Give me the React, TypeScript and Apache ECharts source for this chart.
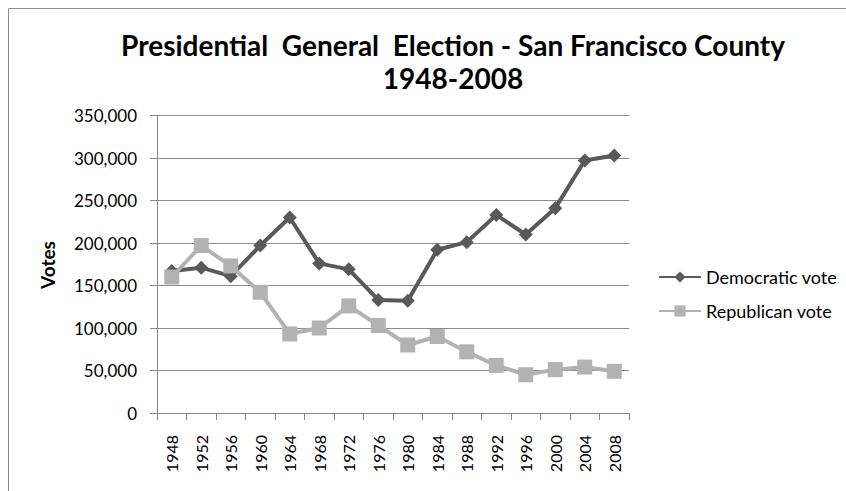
import React, { useEffect, useRef } from "react";
import * as echarts from "echarts";

const years = ["1948","1952","1956","1960","1964","1968","1972","1976","1980","1984","1988","1992","1996","2000","2004","2008"];
const democraticVote = [167000,171000,161000,197000,230000,176000,169000,133000,132000,192000,201000,233000,210000,241000,297000,303000];
const republicanVote = [160000,197000,173000,142000,93000,100000,126000,103000,80000,90000,72000,56000,45000,51000,54000,49000];
const yTicks = { min: 0, max: 350000, interval: 50000 };

const FONT = "Lato";

export default function App() {
  const ref = useRef<HTMLDivElement>(null);
  useEffect(() => {
    if (!ref.current) return;
    const chart = echarts.init(ref.current, undefined, { renderer: "svg" });
    chart.setOption({
      animation: false,
      backgroundColor: "#ffffff",
      textStyle: { fontFamily: FONT },
      graphic: [
        { type: "rect", shape: { x: 8.5, y: 8.5, width: 1000, height: 1000 }, style: { fill: "none", stroke: "#8c8c8c", lineWidth: 1 }, silent: true },
        { type: "text", x: 453, y: 45, style: { text: "Presidential  General  Election - San Francisco County", font: `bold 28px ${FONT}`, fill: "#000", textAlign: "center", textVerticalAlign: "middle" } },
        { type: "text", x: 453, y: 78, style: { text: "1948-2008", font: `bold 28px ${FONT}`, fill: "#000", textAlign: "center", textVerticalAlign: "middle" } },
        { type: "text", x: 47, y: 265, rotation: Math.PI / 2, style: { text: "Votes", font: `bold 19px ${FONT}`, fill: "#000", textAlign: "center", textVerticalAlign: "middle" } },
      ],
      grid: { left: 157, right: 217, top: 115.5, bottom: 78, containLabel: false },
      legend: {
        orient: "vertical",
        left: 653,
        top: 263,
        itemWidth: 42,
        itemHeight: 14,
        itemGap: 16,
        textStyle: { fontFamily: FONT, fontSize: 18, color: "#000" },
        data: ["Democratic vote", "Republican vote"],
      },
      xAxis: {
        type: "category",
        data: years,
        boundaryGap: true,
        axisLine: { lineStyle: { color: "#868686", width: 1 } },
        axisTick: { show: true, interval: 0, length: 7, lineStyle: { color: "#868686" } },
        axisLabel: { rotate: 90, interval: 0, margin: 22, fontFamily: FONT, fontSize: 16, color: "#000" },
      },
      yAxis: {
        type: "value",
        min: yTicks.min,
        max: yTicks.max,
        interval: yTicks.interval,
        axisLine: { show: true, lineStyle: { color: "#868686", width: 1 } },
        axisTick: { show: true, length: 7, lineStyle: { color: "#868686" } },
        splitLine: { lineStyle: { color: "#8c8c8c", width: 1 } },
        axisLabel: {
          margin: 20,
          fontFamily: FONT,
          fontSize: 17,
          color: "#000",
          formatter: (v: number) => v.toLocaleString("en-US"),
        },
      },
      series: [
        {
          name: "Democratic vote",
          type: "line",
          data: democraticVote,
          symbol: "diamond",
          symbolSize: 14,
          color: "#595959",
          lineStyle: { color: "#595959", width: 4 },
          itemStyle: { color: "#595959" },
        },
        {
          name: "Republican vote",
          type: "line",
          data: republicanVote,
          symbol: "rect",
          symbolSize: 15,
          color: "#b2b2b2",
          lineStyle: { color: "#b2b2b2", width: 4 },
          itemStyle: { color: "#b2b2b2" },
        },
      ],
    });
    return () => chart.dispose();
  }, []);
  return <div ref={ref} style={{ width: 846, height: 491, position: "absolute", left: 0, top: 0 }} />;
}
